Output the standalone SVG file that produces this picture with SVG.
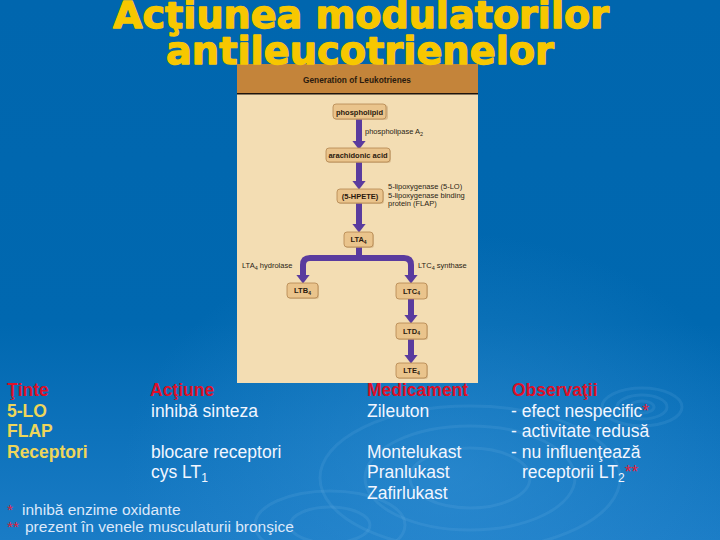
<svg xmlns="http://www.w3.org/2000/svg" width="720" height="540" viewBox="0 0 720 540">
<defs>
  <linearGradient id="bg" x1="0" y1="0" x2="0" y2="1">
    <stop offset="0" stop-color="#0066AE"/>
    <stop offset="0.6" stop-color="#0068B0"/>
    <stop offset="1" stop-color="#1A7CC6"/>
  </linearGradient>
  <radialGradient id="glow" cx="0.62" cy="0.88" r="0.45">
    <stop offset="0" stop-color="#3A95D8" stop-opacity="0.5"/>
    <stop offset="1" stop-color="#3A95D8" stop-opacity="0"/>
  </radialGradient>
  <marker id="ah" viewBox="0 -7 9 14" refX="0.5" refY="0" markerWidth="9" markerHeight="14" markerUnits="userSpaceOnUse" orient="auto">
    <path d="M0,-7 L9,0 L0,7 z" fill="#5A3B9E"/>
  </marker>
  <style>
    .title{font-family:"DejaVu Sans",sans-serif;font-weight:bold;font-size:37px;fill:#F7C700;stroke:#F7C700;stroke-width:1.3;stroke-linejoin:round;text-anchor:middle}
    .box{fill:#EAC48C;stroke:#B3854F;stroke-width:0.8}
    .shadow{fill:#C9A676;opacity:0.6}
    .nt{font-family:"Liberation Sans",Arial,sans-serif;font-weight:bold;font-size:7.5px;fill:#2A1A0E;text-anchor:middle}
    .lab{font-family:"Liberation Sans",Arial,sans-serif;font-size:7.5px;fill:#2A1E14}
    .conn{fill:none;stroke:#5A3B9E;stroke-width:6;stroke-linejoin:round;marker-end:url(#ah)}
    .hd{font-family:"Liberation Sans",Arial,sans-serif;font-weight:bold;font-size:17.5px;fill:#DD1028}
    .yl{font-family:"Liberation Sans",Arial,sans-serif;font-weight:bold;font-size:17.5px;fill:#EED65A}
    .wt{font-family:"Liberation Sans",Arial,sans-serif;font-size:17.5px;fill:#F2F6FF}
    .fn{font-family:"Liberation Sans",Arial,sans-serif;font-size:15.5px;fill:#DCE8FA}
    .red{fill:#E0203A}
    .ring{fill:none;stroke:#8CC4F0;stroke-opacity:0.12;stroke-width:3}
  </style>
</defs>

<!-- background -->
<rect x="0" y="0" width="720" height="540" fill="url(#bg)"/>
<rect x="0" y="0" width="720" height="540" fill="url(#glow)"/>
<g id="ripples">
  <ellipse class="ring" cx="642" cy="407" rx="12" ry="6"/>
  <ellipse class="ring" cx="642" cy="407" rx="25" ry="12"/>
  <ellipse class="ring" cx="642" cy="407" rx="40" ry="19"/>
  <ellipse class="ring" cx="470" cy="478" rx="60" ry="30"/>
  <ellipse class="ring" cx="470" cy="478" rx="105" ry="52"/>
  <ellipse class="ring" cx="470" cy="478" rx="150" ry="72"/>
  <ellipse class="ring" cx="330" cy="525" rx="40" ry="18"/>
  <ellipse class="ring" cx="330" cy="525" rx="75" ry="34"/>
</g>

<!-- picture panel -->
<g id="panel">
  <rect x="237" y="64" width="241" height="319" fill="#F3DDB3"/>
  <rect x="237" y="64" width="241" height="29" fill="#C4843A"/>
  <rect x="237" y="93" width="241" height="1.5" fill="#1E140C"/>
  <text x="357" y="83" font-family="'Liberation Sans',Arial,sans-serif" font-weight="bold" font-size="8.5" fill="#2A1A0E" text-anchor="middle" textLength="108" lengthAdjust="spacingAndGlyphs">Generation of Leukotrienes</text>
</g>

<!-- title -->
<g id="title">
  <text class="title" x="361" y="28" textLength="496" lengthAdjust="spacingAndGlyphs">Acţiunea modulatorilor</text>
  <text class="title" x="360" y="64" textLength="388" lengthAdjust="spacingAndGlyphs">antileucotrienelor</text>
</g>

<!-- connectors -->
<g id="connectors">
  <line class="conn" x1="359" y1="119" x2="359" y2="141"/>
  <line class="conn" x1="359" y1="162" x2="359" y2="181"/>
  <line class="conn" x1="359" y1="203" x2="359" y2="224"/>
  <path class="conn" d="M359,247 L359,258 L310,258 Q303,258 303,265 L303,275"/>
  <path class="conn" d="M359,258 L404,258 Q411,258 411,265 L411,275"/>
  <line class="conn" x1="411" y1="299" x2="411" y2="315"/>
  <line class="conn" x1="411" y1="339" x2="411" y2="355"/>
  <text class="lab" x="365" y="134">phospholipase A<tspan dy="2" font-size="5.5">2</tspan></text>
  <text class="lab" x="388" y="189">5-lipoxygenase (5-LO)</text>
  <text class="lab" x="388" y="197.5">5-lipoxygenase binding</text>
  <text class="lab" x="388" y="206">protein (FLAP)</text>
  <text class="lab" x="242" y="268">LTA<tspan dy="2" font-size="5.5">4</tspan><tspan dy="-2"> hydrolase</tspan></text>
  <text class="lab" x="418" y="268">LTC<tspan dy="2" font-size="5.5">4</tspan><tspan dy="-2"> synthase</tspan></text>
</g>

<!-- nodes -->
<g id="n-phospholipid">
  <rect class="shadow" x="334" y="105" width="54" height="15" rx="3"/>
  <rect class="box" x="333" y="104" width="53" height="15" rx="3"/>
  <text class="nt" x="359.5" y="114.5">phospholipid</text>
</g>
<g id="n-arachidonic">
  <rect class="shadow" x="327" y="149" width="64" height="14" rx="3"/>
  <rect class="box" x="326" y="148" width="64" height="14" rx="3"/>
  <text class="nt" x="358" y="158">arachidonic acid</text>
</g>
<g id="n-hpete">
  <rect class="shadow" x="338" y="190" width="46" height="14" rx="3"/>
  <rect class="box" x="337" y="189" width="46" height="14" rx="3"/>
  <text class="nt" x="360" y="199">(5-HPETE)</text>
</g>
<g id="n-lta4">
  <rect class="shadow" x="345" y="233" width="29" height="15" rx="3"/>
  <rect class="box" x="344" y="232" width="29" height="15" rx="3"/>
  <text class="nt" x="358.5" y="242">LTA<tspan dy="1.5" font-size="5">4</tspan></text>
</g>
<g id="n-ltb4">
  <rect class="shadow" x="288" y="284" width="31" height="15" rx="3"/>
  <rect class="box" x="287" y="283" width="31" height="15" rx="3"/>
  <text class="nt" x="302.5" y="293">LTB<tspan dy="1.5" font-size="5">4</tspan></text>
</g>
<g id="n-ltc4">
  <rect class="shadow" x="397" y="284" width="31" height="15" rx="3"/>
  <rect class="box" x="396" y="283" width="31" height="16" rx="3"/>
  <text class="nt" x="411.5" y="293.5">LTC<tspan dy="1.5" font-size="5">4</tspan></text>
</g>
<g id="n-ltd4">
  <rect class="shadow" x="397" y="324" width="31" height="16" rx="3"/>
  <rect class="box" x="396" y="323" width="31" height="16" rx="3"/>
  <text class="nt" x="411.5" y="333.5">LTD<tspan dy="1.5" font-size="5">4</tspan></text>
</g>
<g id="n-lte4">
  <rect class="shadow" x="397" y="364" width="31" height="15" rx="3"/>
  <rect class="box" x="396" y="363" width="31" height="15" rx="3"/>
  <text class="nt" x="411.5" y="373">LTE<tspan dy="1.5" font-size="5">4</tspan></text>
</g>

<!-- table -->
<g id="col-tinte">
  <text class="hd" x="7" y="396">Ţinte</text>
  <text class="yl" x="7" y="416.5">5-LO</text>
  <text class="yl" x="7" y="437">FLAP</text>
  <text class="yl" x="7" y="457.5">Receptori</text>
</g>
<g id="col-actiune">
  <text class="hd" x="150" y="396">Acţiune</text>
  <text class="wt" x="151" y="416.5">inhibă sinteza</text>
  <text class="wt" x="151" y="457.5">blocare receptori</text>
  <text class="wt" x="151" y="478">cys LT<tspan dy="4" font-size="12">1</tspan></text>
</g>
<g id="col-medicament">
  <text class="hd" x="367" y="396">Medicament</text>
  <text class="wt" x="367" y="416.5">Zileuton</text>
  <text class="wt" x="367" y="457.5">Montelukast</text>
  <text class="wt" x="367" y="478">Pranlukast</text>
  <text class="wt" x="367" y="498.5">Zafirlukast</text>
</g>
<g id="col-observatii">
  <text class="hd" x="512" y="396">Observaţii</text>
  <text class="wt" x="511" y="416.5">- efect nespecific<tspan class="red">*</tspan></text>
  <text class="wt" x="511" y="437">- activitate redusă</text>
  <text class="wt" x="511" y="457.5">- nu influenţează</text>
  <text class="wt" x="522" y="478">receptorii LT<tspan dy="4" font-size="12">2</tspan><tspan class="red" dy="-4">**</tspan></text>
</g>
<g id="footnotes">
  <text class="fn" x="7" y="515"><tspan class="red">*</tspan></text>
  <text class="fn" x="22" y="515">inhibă enzime oxidante</text>
  <text class="fn" x="7" y="532"><tspan class="red">**</tspan></text>
  <text class="fn" x="25" y="532">prezent în venele musculaturii bronşice</text>
</g>
</svg>
